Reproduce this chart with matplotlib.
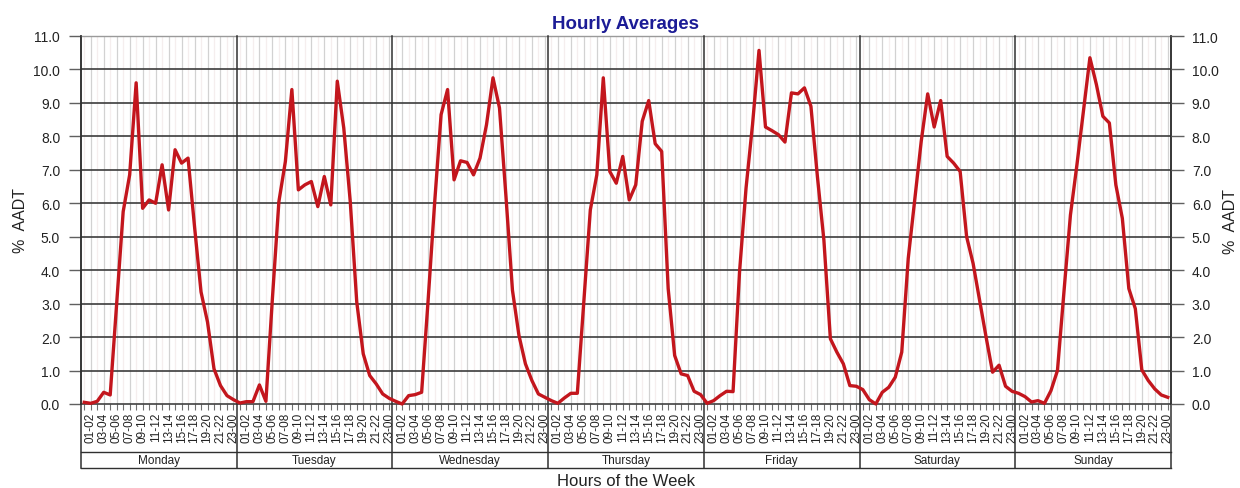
import numpy as np
import matplotlib.pyplot as plt

days = ["Monday", "Tuesday", "Wednesday", "Thursday", "Friday", "Saturday", "Sunday"]
hour_labels = ["01-02", "03-04", "05-06", "07-08", "09-10", "11-12",
               "13-14", "15-16", "17-18", "19-20", "21-22", "23-00"]

# % AADT, one value per hour (00-01 ... 23-00)
monday = [0.05, 0.02, 0.08, 0.35, 0.27, 3.0, 5.75, 6.85, 9.6, 5.85, 6.1, 6.0,
          7.15, 5.8, 7.6, 7.2, 7.35, 5.3, 3.35, 2.45, 1.05, 0.55, 0.25, 0.13]
tuesday = [0.03, 0.07, 0.07, 0.57, 0.08, 3.15, 6.05, 7.25, 9.4, 6.4, 6.55, 6.65,
           5.9, 6.8, 5.95, 9.65, 8.25, 6.05, 3.05, 1.5, 0.85, 0.6, 0.3, 0.17]
wednesday = [0.08, 0.0, 0.25, 0.28, 0.35, 3.1, 6.0, 8.65, 9.4, 6.7, 7.27, 7.22,
             6.85, 7.35, 8.35, 9.75, 8.85, 6.2, 3.4, 2.05, 1.2, 0.7, 0.3, 0.2]
thursday = [0.1, 0.02, 0.18, 0.32, 0.32, 3.05, 5.8, 6.85, 9.75, 6.95, 6.6, 7.4,
            6.1, 6.55, 8.45, 9.07, 7.78, 7.55, 3.45, 1.45, 0.9, 0.85, 0.38, 0.28]
friday = [0.02, 0.1, 0.25, 0.38, 0.37, 3.95, 6.45, 8.35, 10.57, 8.28, 8.17, 8.05,
          7.83, 9.3, 9.27, 9.45, 8.9, 6.8, 4.9, 1.95, 1.55, 1.2, 0.55, 0.53]
saturday = [0.43, 0.13, 0.0, 0.35, 0.5, 0.8, 1.55, 4.35, 6.1, 7.85, 9.27, 8.28,
            9.07, 7.4, 7.2, 6.95, 5.0, 4.2, 3.1, 2.0, 0.95, 1.16, 0.53, 0.38]
sunday = [0.32, 0.22, 0.06, 0.1, 0.02, 0.4, 1.0, 3.35, 5.65, 7.15, 8.75, 10.35,
          9.55, 8.6, 8.4, 6.55, 5.55, 3.45, 2.85, 1.02, 0.7, 0.45, 0.27, 0.2]

week = monday + tuesday + wednesday + thursday + friday + saturday + sunday
y_ticks = [0, 1, 2, 3, 4, 5, 6, 7, 8, 9, 10, 11]

plt.rcParams["font.family"] = ["Liberation Sans", "DejaVu Sans"]
txt = "#222222"

W, H = 1240, 489
fig = plt.figure(figsize=(W / 100, H / 100), dpi=100)
ax = fig.add_axes([81 / W, 1 - 405 / H, 1090 / W, 368 / H])

n = len(week)
x = np.arange(n)
ax.set_xlim(-0.5, n - 0.5)
ax.set_ylim(0, 11)

# vertical grid: faint lines at even hours, grey at odd (labelled) hours
for h in x:
    if h % 2 == 1:
        ax.axvline(h, color="#d2d2d2", lw=0.9, zorder=1)
    else:
        ax.axvline(h, color="#f5eeee", lw=0.9, zorder=1)
for v in y_ticks[1:-1]:
    ax.axhline(v, color="#3c3c3c", lw=1.2, zorder=2)

ax.plot(x, week, color="#c3161d", lw=2.4, zorder=5, clip_on=False)

# day separators and the day-name band below the hour labels
trans = ax.get_xaxis_transform()
band_top = -48 / 368
band_bot = -64 / 368
for d in range(len(days) + 1):
    b = d * 24 - 0.5
    ax.plot([b, b], [band_bot, 1], transform=trans, color="#303030", lw=1.1,
            clip_on=False, zorder=3)
for yb in (band_top, band_bot):
    ax.plot([-0.5, n - 0.5], [yb, yb], transform=trans, color="#303030", lw=1.0,
            clip_on=False, zorder=3)
for d, name in enumerate(days):
    ax.text(d * 24 + 11.5, (band_top + band_bot) / 2, name, transform=trans,
            ha="center", va="center", fontsize=8.5, color=txt)

for s in ("left", "right", "bottom"):
    ax.spines[s].set_color("#303030")
    ax.spines[s].set_linewidth(1.1)
ax.spines["top"].set_color("#9a9a9a")
ax.spines["top"].set_linewidth(1.0)

ax.set_xticks(x[1::2])
ax.set_xticklabels(hour_labels * len(days), rotation=90, fontsize=8.5, color=txt)
ax.set_xticks(x[0::2], minor=True)
ax.tick_params(axis="x", which="both", length=4, width=0.8, color="#707070", pad=1.5)

ax.set_yticks(y_ticks)
ax.set_yticklabels([f"{v:.1f}" for v in y_ticks], fontsize=10, color=txt)
ax.tick_params(axis="y", length=9, width=1.0, color="#606060", pad=6)
ax.set_ylabel("%  AADT", fontsize=11.5, color=txt, labelpad=4)

ax2 = ax.twinx()
ax2.set_ylim(0, 11)
ax2.set_yticks(y_ticks)
ax2.set_yticklabels([f"{v:.1f}" for v in y_ticks], fontsize=10, color=txt)
ax2.tick_params(axis="y", length=9, width=1.0, color="#606060", pad=6)
ax2.set_ylabel("%  AADT", fontsize=11.5, color=txt, labelpad=3)
for s in ax2.spines.values():
    s.set_visible(False)

ax.set_title("Hourly Averages", fontsize=13.5, fontweight="bold", color="#1c1c96", pad=6)
fig.text(626 / W, 1 - 482 / H, "Hours of the Week", ha="center", va="center",
         fontsize=12, color=txt)

fig.savefig("out.png", dpi=100, facecolor="white")
